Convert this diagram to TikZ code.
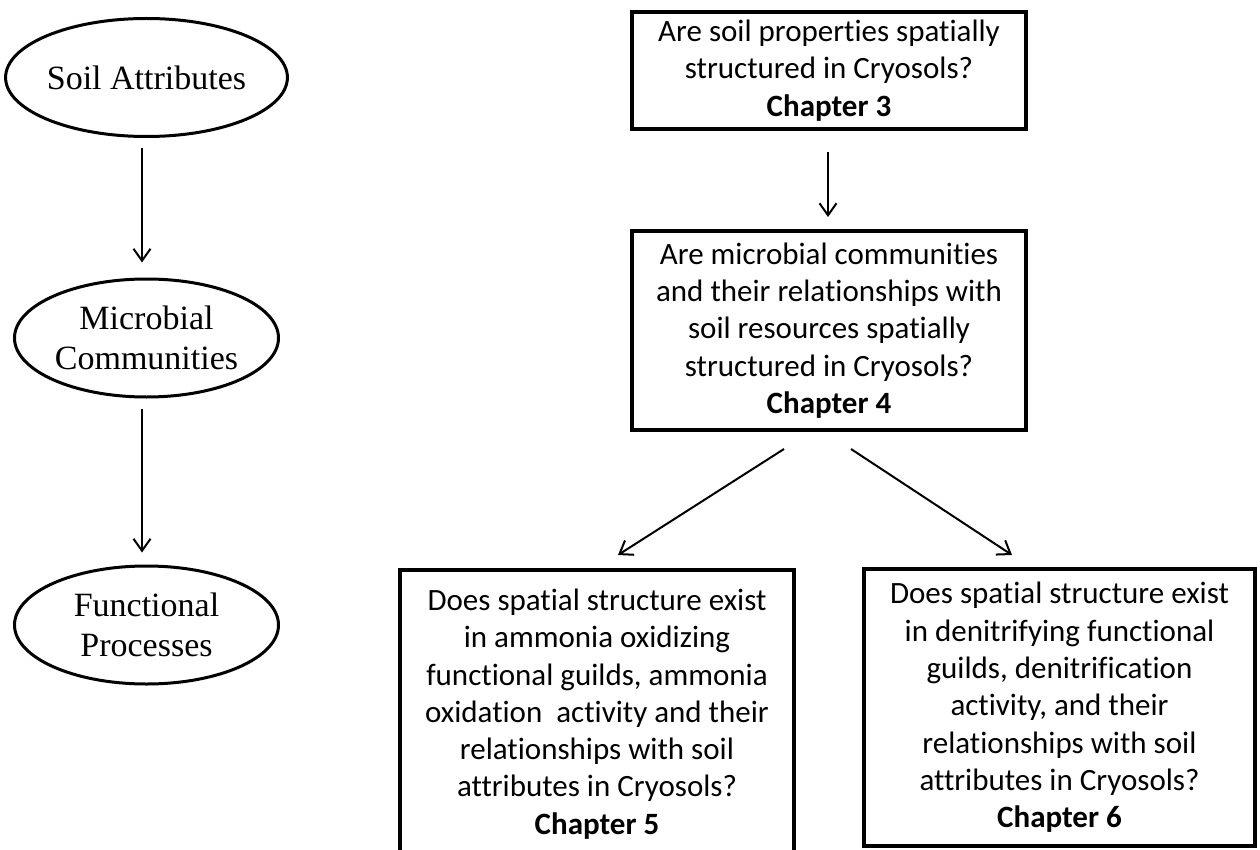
\documentclass[tikz,border=0pt]{standalone}
\usepackage{fontspec}
\setmainfont{Liberation Serif}
\newfontfamily\calfont[Ligatures=NoCommon]{Carlito}
\usetikzlibrary{shapes.geometric,arrows.meta,calc}
\begin{document}
\begin{tikzpicture}[x=1pt,y=-1pt,
  ell/.style={ellipse, draw, line width=3pt, minimum width=264pt, minimum height=118pt, inner sep=0pt, font=\fontsize{34}{40}\selectfont, align=center},
  qbox/.style={rectangle, draw, line width=4pt, inner sep=0pt, font=\calfont\fontsize{31}{37.3}\selectfont, align=center},
  arr/.style={-{Straight Barb[length=12pt,width=17pt]}, line width=2pt}]
\useasboundingbox (0,0) rectangle (1260,850);
\clip (0,0) rectangle (1260,850);

\node[ell] (soil) at (146.5,77.5) {Soil Attributes};
\node[ell] (micro) at (146.5,338) {Microbial\\Communities};
\node[ell] (func) at (146.5,625) {Functional\\Processes};

\node[qbox, minimum width=394pt, minimum height=117pt] (c3) at (829,70.5)
  {Are soil properties spatially\\structured in Cryosols?\\\textbf{Chapter 3}};
\node[qbox, minimum width=394pt, minimum height=199pt] (c4) at (829,330.5)
  {Are microbial communities\\and their relationships with\\soil resources spatially\\structured in Cryosols?\\\textbf{Chapter 4}};
\node[qbox, minimum width=394pt, minimum height=288pt] (c5) at (597,714)
  {Does spatial structure exist\\in ammonia oxidizing\\functional guilds, ammonia\\oxidation\ \ activity and their\\relationships with soil\\attributes in Cryosols?\\\textbf{Chapter 5}};
\node[qbox, minimum width=391pt, minimum height=277pt] (c6) at (1059.5,707.5)
  {Does spatial structure exist\\in denitrifying functional\\guilds, denitrification\\activity, and their\\relationships with soil\\attributes in Cryosols?\\\textbf{Chapter 6}};

\draw[arr] ($(soil.south)+(-4.5,10)$) -- ($(micro.north)+(-4.5,-15)$);
\draw[arr] ($(micro.south)+(-4.5,10)$) -- ($(func.north)+(-4.5,-12)$);
\draw[arr] ($(c3.south)+(-1,21)$) -- ($(c4.north)+(-1,-12)$);
\draw[arr] ($(c4.south)+(-45,17)$) -- ($(c5.north)+(21,-13)$);
\draw[arr] ($(c4.south)+(22,17)$) -- ($(c6.north)+(-47.5,-12)$);
\end{tikzpicture}
\end{document}
